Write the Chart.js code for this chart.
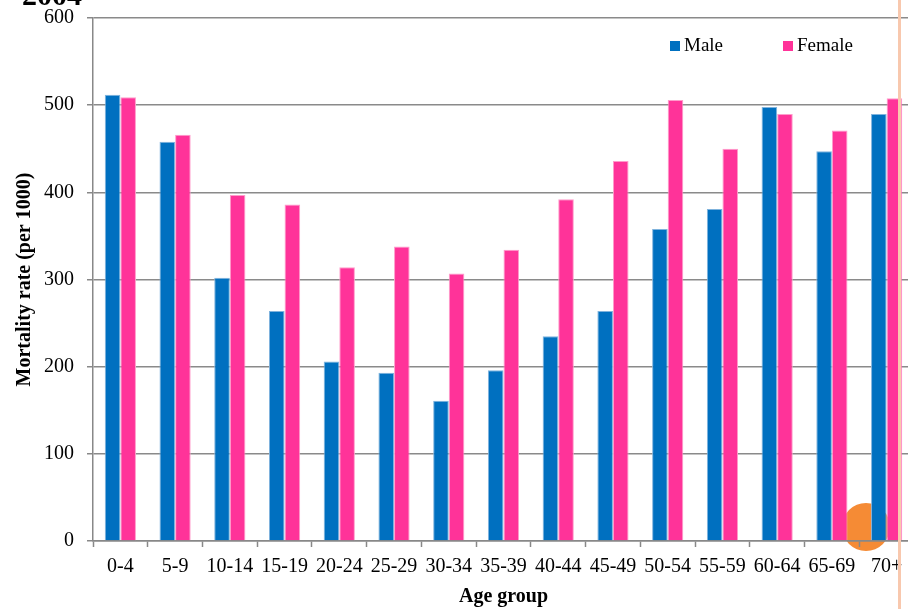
<!DOCTYPE html>
<html>
<head>
<meta charset="utf-8">
<script src="https://cdn.jsdelivr.net/npm/chart.js@4/dist/chart.umd.min.js"></script>
<style>
  html, body { margin: 0; padding: 0; background: #fff; overflow: hidden; }
  #wrap { position: relative; width: 914px; height: 609px; }
</style>
</head>
<body>
<div id="wrap"><canvas id="myChart"></canvas></div>
<script>
const ageGroups = ["0-4","5-9","10-14","15-19","20-24","25-29","30-34","35-39","40-44","45-49","50-54","55-59","60-64","65-69","70+"];
const maleRates = [512,458,302,264,206,193,161,196,235,264,358,381,498,447,490];
const femaleRates = [509,466,397,386,314,338,307,334,392,436,506,450,490,471,508];
const yTicks = [0,100,200,300,400,500,600];

const serif = "'Liberation Serif', 'Times New Roman', serif";

// "2004" title, cut off by the top edge like in the picture
const cornerTitle = {
  id: "cornerTitle",
  afterDraw(chart){
    const ctx = chart.ctx;
    ctx.save();
    ctx.fillStyle = "#000";
    ctx.font = "bold 30px " + serif;
    ctx.textBaseline = "alphabetic";
    ctx.fillText("2004", 22, 5);
    ctx.restore();
  }
};

// marks drawn on top of the slide: circle behind, line in front
const overlayMarks = {
  id: "overlayMarks",
  beforeDraw(chart){
    const ctx = chart.ctx;
    ctx.save();
    ctx.fillStyle = "#F58B35";
    ctx.beginPath();
    ctx.arc(866, 527, 24, 0, Math.PI*2);
    ctx.fill();
    ctx.restore();
  },
  afterDraw(chart){
    const ctx = chart.ctx;
    ctx.save();
    ctx.fillStyle = "#F8C8AE";
    ctx.fillRect(898, 0, 3, chart.height);
    ctx.restore();
  }
};

// legend inside the plot, top right
const insideLegend = {
  id: "insideLegend",
  afterDatasetsDraw(chart){
    const ctx = chart.ctx;
    const xs = [670, 783];
    ctx.save();
    ctx.font = "19px " + serif;
    ctx.textBaseline = "middle";
    chart.data.datasets.forEach((ds,i)=>{
      ctx.fillStyle = ds.backgroundColor;
      ctx.fillRect(xs[i], 41, 10, 10);
      ctx.fillStyle = "#000";
      ctx.fillText(ds.label, xs[i]+14, 46);
    });
    ctx.restore();
  }
};

const ctx = document.getElementById("myChart");
const myChart = new Chart(ctx, {
  type: "bar",
  data: {
    labels: ageGroups,
    datasets: [{
      label: "Male",
      data: maleRates,
      backgroundColor: "#0070C0",
      borderColor: "#7fb3dd",
      borderWidth: 1,
      categoryPercentage: 0.57,
      barPercentage: 1.0
    },{
      label: "Female",
      data: femaleRates,
      backgroundColor: "#FF3399",
      borderColor: "#ff9ccb",
      borderWidth: 1,
      categoryPercentage: 0.57,
      barPercentage: 1.0
    }]
  },
  options: {
    responsive: true,
    maintainAspectRatio: false,
    animation: false,
    layout: { padding: { top: 18, left: 0, right: 0, bottom: 0 } },
    plugins: {
      legend: { display: false },
      title: { display: false },
      tooltip: { enabled: false }
    },
    scales: {
      x: {
        offset: true,
        grid: {
          offset: true,
          drawOnChartArea: false,
          drawTicks: true,
          tickLength: 6,
          tickColor: "#888",
          tickWidth: 1.5
        },
        border: { color: "#888", width: 1.5 },
        ticks: {
          color: "#000",
          font: { family: serif, size: 20 },
          padding: 8,
          maxRotation: 0,
          autoSkip: false
        },
        title: {
          display: true,
          text: "Age group",
          color: "#000",
          font: { family: serif, size: 20, weight: "bold" },
          padding: { top: 0, bottom: 0 }
        },
        afterFit(scale){ scale.height = 68; }
      },
      y: {
        min: 0,
        max: 600,
        afterBuildTicks(scale){ scale.ticks = yTicks.map(v=>({value:v})); },
        grid: {
          color: "#8a8a8a",
          lineWidth: 1.5,
          drawTicks: true,
          tickLength: 6,
          tickColor: "#888"
        },
        border: { color: "#888", width: 1.5 },
        ticks: {
          color: "#000",
          font: { family: serif, size: 20 },
          padding: 13
        },
        title: {
          display: true,
          text: "Mortality rate (per 1000)",
          color: "#000",
          font: { family: serif, size: 20, weight: "bold" },
          padding: { top: 13, bottom: 0 }
        },
        afterFit(scale){
          scale.width = 93;
          scale.paddingTop = 0;
          scale.paddingBottom = 0;
        }
      }
    }
  },
  plugins: [overlayMarks, insideLegend, cornerTitle]
});
</script>
</body>
</html>
